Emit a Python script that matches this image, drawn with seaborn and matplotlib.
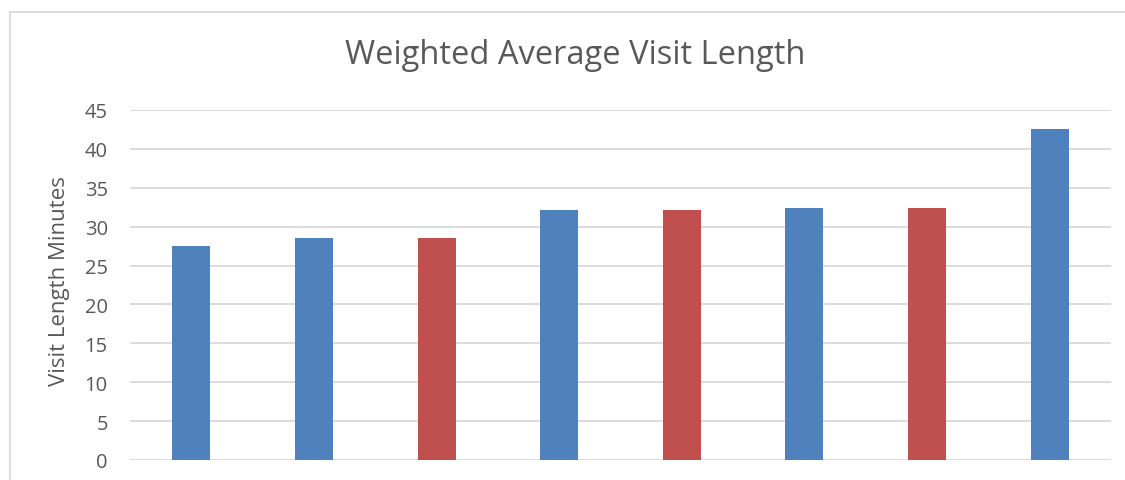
import matplotlib
matplotlib.use("Agg")
import matplotlib.pyplot as plt
from matplotlib.lines import Line2D
import seaborn as sns
import pandas as pd

# Chart data
categories = ["1", "2", "3", "4", "5", "6", "7", "8"]
visit_minutes = [27.5, 28.6, 28.5, 32.1, 32.1, 32.4, 32.4, 42.5]
groups = ["A", "A", "B", "A", "B", "A", "B", "A"]
y_ticks = [0, 5, 10, 15, 20, 25, 30, 35, 40, 45]

palette = {"A": "#4F81BD", "B": "#C0504D"}
text_color = "#595959"
grid_color = "#D9D9D9"

sns.set_theme(style="white")
plt.rcParams["font.family"] = ["Open Sans", "DejaVu Sans"]

df = pd.DataFrame({"category": categories, "minutes": visit_minutes, "group": groups})

W, H = 1125, 481
fig = plt.figure(figsize=(W / 100, H / 100), dpi=100)
ax = fig.add_axes([130 / W, 20 / H, 981 / W, 350 / H])

sns.barplot(data=df, x="category", y="minutes", hue="group", palette=palette,
            dodge=False, width=0.31, legend=False, ax=ax, saturation=1,
            edgecolor="none")

ax.set_ylim(0, 45)
ax.set_xlim(-0.5, len(categories) - 0.5)
ax.set_yticks(y_ticks)
ax.set_yticklabels([str(t) for t in y_ticks], fontsize=14.5, color=text_color)
ax.set_xticks([])
ax.set_xlabel("")
ax.set_ylabel("")
ax.tick_params(axis="y", length=0, pad=16)
for s in ax.spines.values():
    s.set_visible(False)
ax.yaxis.grid(True, color=grid_color, linewidth=1.3)
ax.set_axisbelow(True)

fig.text(60 / W, 1 - 281 / H, "Visit Length Minutes", rotation=90, ha="center",
         va="center", fontsize=16, color=text_color)
fig.text(575 / W, 1 - 55 / H, "Weighted Average Visit Length", ha="center",
         va="center", fontsize=23.5, color=text_color)

# Chart-area frame (top and left edges)
fig.add_artist(Line2D([9.5 / W, 1.0], [1 - 12.5 / H, 1 - 12.5 / H],
                      color=grid_color, linewidth=1.3, transform=fig.transFigure))
fig.add_artist(Line2D([9.5 / W, 9.5 / W], [0, 1 - 12.5 / H],
                      color=grid_color, linewidth=1.3, transform=fig.transFigure))

fig.savefig("out.png", dpi=100)
